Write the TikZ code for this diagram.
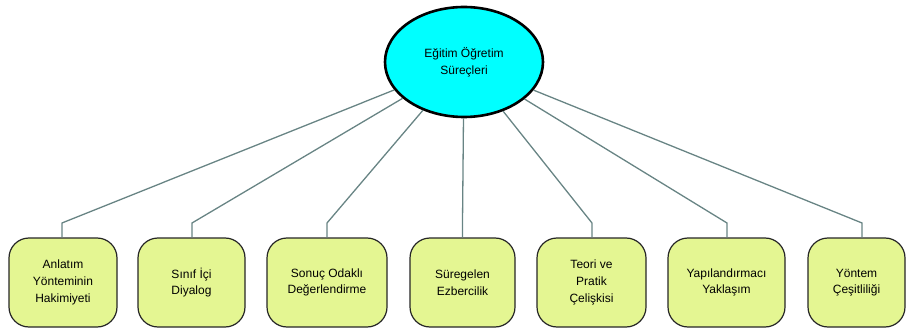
\documentclass[tikz,border=0pt]{standalone}
\usepackage{fontspec}
\setmainfont{Liberation Sans}
\usetikzlibrary{shapes.geometric}
\definecolor{boxfill}{RGB}{228,246,146}
\definecolor{linkcol}{RGB}{104,132,132}
\definecolor{ellfill}{RGB}{0,255,255}
\tikzset{
  leaf/.style={draw=black!85, line width=1.2pt, fill=boxfill, rounded corners=20pt,
    minimum height=89pt, align=center, font=\fontsize{12}{16.7}\selectfont, inner sep=2pt},
  link/.style={draw=linkcol, line width=1.3pt},
}
\begin{document}
\begin{tikzpicture}[x=1pt,y=-1pt]
\useasboundingbox (0,0) rectangle (907,331);
\node[ellipse, draw=black, line width=2.6pt, fill=ellfill, minimum width=158pt, minimum height=110pt,
  align=center, font=\fontsize{12}{16.7}\selectfont] (e) at (464,62) {Eğitim Öğretim\\Süreçleri};
\node[leaf, minimum width=108pt] (b1) at (63,282.5) {Anlatım\\Yönteminin\\Hakimiyeti};
\node[leaf, minimum width=107pt] (b2) at (191.5,282.5) {Sınıf İçi\\Diyalog};
\node[leaf, minimum width=120pt] (b3) at (327,282.5) {Sonuç Odaklı\\Değerlendirme};
\node[leaf, minimum width=105pt] (b4) at (462.5,282.5) {Süregelen\\Ezbercilik};
\node[leaf, minimum width=109pt] (b5) at (591.5,282.5) {Teori ve\\Pratik\\Çelişkisi};
\node[leaf, minimum width=117pt] (b6) at (726.5,282.5) {Yapılandırmacı\\Yaklaşım};
\node[leaf, minimum width=97pt] (b7) at (856.5,282.5) {Yöntem\\Çeşitliliği};
\foreach \i/\x in {1/62,2/192,3/327,4/462.5,5/592,6/727,7/862}{
  \coordinate (k\i) at (\x,223);
  \draw[link] (e) -- (k\i) -- (k\i |- b\i.north);
}
\end{tikzpicture}
\end{document}
